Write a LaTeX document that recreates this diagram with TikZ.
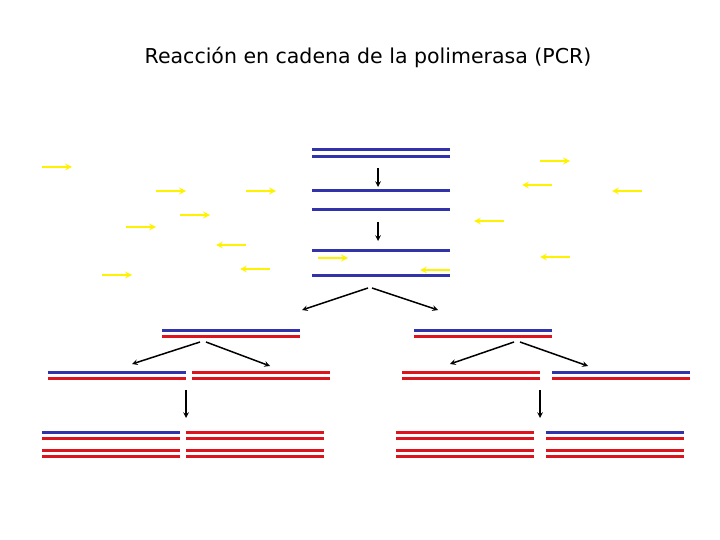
\documentclass[tikz,border=0pt]{standalone}
\usepackage{fontspec}
\setmainfont{DejaVu Sans}
\begin{document}
\begin{tikzpicture}[x=1pt,y=-1pt]
\definecolor{dblue}{RGB}{50,50,170}\definecolor{dred}{RGB}{220,20,30}
\tikzset{bl/.style={draw=dblue,line width=3pt},rd/.style={draw=dred,line width=3pt},
  pr/.style={draw=yellow,line width=2pt,-stealth},
  ar/.style={draw=black,line width=1.5pt,-stealth}}
\useasboundingbox (0,0) rectangle (720,540);
\node (t) at (368,57) {\fontsize{20.5}{24}\selectfont Reacción en cadena de la polimerasa (PCR)};
% primers
\foreach \a/\b/\y in {42/72/167,156/186/191,246/276/191,180/210/215,126/156/227,246/216/245,270/240/269,102/132/275,318/348/258,450/420/270,540/570/161,552/522/185,642/612/191,504/474/221,570/540/257}
  {\coordinate (pa) at (\a,\y); \coordinate (pb) at (\b,\y); \draw[pr] (pa) -- (pb);}
% middle strands
\foreach \y in {150,157,191,210,250,275} {\draw[bl] (312,\y) -- (450,\y);}
\coordinate (d1a) at (378,168); \coordinate (d1b) at (378,187);
\coordinate (d2a) at (378,222); \coordinate (d2b) at (378,241);
\draw[ar] (d1a) -- (d1b); \draw[ar] (d2a) -- (d2b);
\coordinate (s0) at (368,288); \coordinate (s0b) at (372,288);
\coordinate (L) at (302,310); \coordinate (R) at (438,310);
\draw[ar] (s0) -- (L); \draw[ar] (s0b) -- (R);
% level 1
\draw[bl] (162,330) -- (300,330); \draw[rd] (162,336) -- (300,336);
\draw[bl] (414,330) -- (552,330); \draw[rd] (414,336) -- (552,336);
\coordinate (ls) at (200,342); \coordinate (ls2) at (206,342);
\coordinate (rs) at (514,342); \coordinate (rs2) at (520,342);
\coordinate (lL) at (132,364); \coordinate (lR) at (270,366);
\coordinate (rL) at (450,364); \coordinate (rR) at (588,366);
\draw[ar] (ls) -- (lL); \draw[ar] (ls2) -- (lR);
\draw[ar] (rs) -- (rL); \draw[ar] (rs2) -- (rR);
% level 2
\draw[bl] (48,372) -- (186,372); \draw[rd] (48,378) -- (186,378);
\draw[rd] (192,372) -- (330,372); \draw[rd] (192,378) -- (330,378);
\draw[rd] (402,372) -- (540,372); \draw[rd] (402,378) -- (540,378);
\draw[bl] (552,372) -- (690,372); \draw[rd] (552,378) -- (690,378);
\coordinate (da) at (186,390); \coordinate (db) at (186,418);
\coordinate (ea) at (540,390); \coordinate (eb) at (540,418);
\draw[ar] (da) -- (db); \draw[ar] (ea) -- (eb);
% level 3
\draw[bl] (42,432) -- (180,432); \draw[rd] (42,438) -- (180,438);
\draw[rd] (42,450) -- (180,450); \draw[rd] (42,456) -- (180,456);
\foreach \y in {432,438,450,456} {\draw[rd] (186,\y) -- (324,\y); \draw[rd] (396,\y) -- (534,\y);}
\draw[bl] (546,432) -- (684,432); \draw[rd] (546,438) -- (684,438);
\draw[rd] (546,450) -- (684,450); \draw[rd] (546,456) -- (684,456);
\end{tikzpicture}
\end{document}
